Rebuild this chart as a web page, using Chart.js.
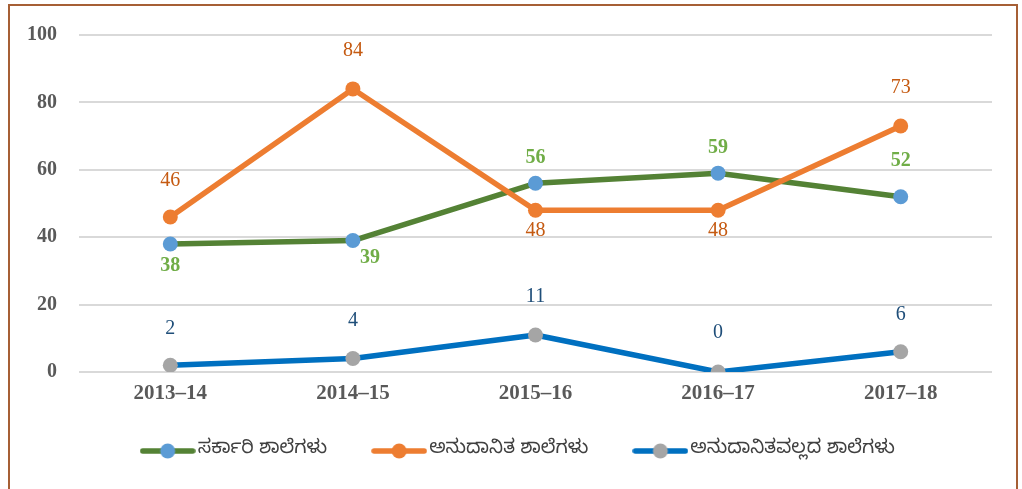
<!DOCTYPE html>
<html>
<head>
<meta charset="utf-8">
<script src="https://cdn.jsdelivr.net/npm/chart.js@4"></script>
<style>
  html, body { margin: 0; padding: 0; background: #fff; overflow: hidden; }
  #wrap { position: relative; width: 1022px; height: 489px; }
  #frame { position: absolute; left: 8px; top: 4px; width: 1010px; height: 500px;
           border: 2px solid #a65f35; box-sizing: border-box; }
  canvas { position: absolute; left: 0; top: 0; }
</style>
</head>
<body>
<div id="wrap">
  <div id="frame"></div>
  <canvas id="lineChart" width="1022" height="489"></canvas>
</div>
<script>
var years = ['2013\u201314', '2014\u201315', '2015\u201316', '2016\u201317', '2017\u201318'];
var govtSchools = [38, 39, 56, 59, 52];
var aidedSchools = [46, 84, 48, 48, 73];
var unaidedSchools = [2, 4, 11, 0, 6];
var seriesNames = ['ಸರ್ಕಾರಿ ಶಾಲೆಗಳು', 'ಅನುದಾನಿತ ಶಾಲೆಗಳು', 'ಅನುದಾನಿತವಲ್ಲದ ಶಾಲೆಗಳು'];

var serif = "'Liberation Serif', 'Times New Roman', serif";
var kannada = "'Noto Sans Kannada', 'Noto Sans', sans-serif";

// legend sample: line with a marker in the middle
function legendIcon(lineColor, dotColor) {
    var c = document.createElement('canvas');
    c.width = 56; c.height = 18;
    var g = c.getContext('2d');
    g.strokeStyle = lineColor;
    g.lineWidth = 5.5;
    g.lineCap = 'round';
    g.beginPath(); g.moveTo(3, 9); g.lineTo(53, 9); g.stroke();
    g.fillStyle = dotColor;
    g.beginPath(); g.arc(28, 9, 7.5, 0, Math.PI * 2); g.fill();
    return c;
}

// simple value labels drawn next to each point
var valueLabels = {
    id: 'valueLabels',
    afterDatasetsDraw: function(chart) {
        var ctx = chart.ctx;
        chart.data.datasets.forEach(function(ds, i) {
            var meta = chart.getDatasetMeta(i);
            ctx.save();
            ctx.font = ds.labelFont;
            ctx.fillStyle = ds.labelColor;
            ctx.textAlign = 'center';
            ctx.textBaseline = 'middle';
            meta.data.forEach(function(pt, j) {
                var off = ds.labelOffsets[j];
                ctx.fillText(ds.data[j], pt.x + off[0], pt.y + off[1]);
            });
            ctx.restore();
        });
    }
};

// nudge the legend box so it sits where the original one does
var legendShift = {
    id: 'legendShift',
    afterLayout: function(chart) {
        var lg = chart.legend;
        lg.left += 25; lg.right += 25;
        lg.top -= 18; lg.bottom -= 18;
    }
};

var ctx = document.getElementById('lineChart').getContext('2d');
var myChart = new Chart(ctx, {
    type: 'line',
    data: {
        labels: years,
        datasets: [{
            label: seriesNames[0],
            data: govtSchools,
            borderColor: '#548235',
            backgroundColor: '#5b9bd5',
            pointBackgroundColor: '#5b9bd5',
            pointBorderColor: '#5b9bd5',
            order: 3,
            labelColor: '#70ad47',
            labelFont: 'bold 20px ' + serif,
            labelOffsets: [[0, 22], [17, 17], [0, -25], [0, -25], [0, -36]],
            icon: legendIcon('#548235', '#5b9bd5')
        }, {
            label: seriesNames[1],
            data: aidedSchools,
            borderColor: '#ed7d31',
            backgroundColor: '#ed7d31',
            pointBackgroundColor: '#ed7d31',
            pointBorderColor: '#ed7d31',
            order: 2,
            labelColor: '#c55a11',
            labelFont: '20px ' + serif,
            labelOffsets: [[0, -36], [0, -38], [0, 21], [0, 21], [0, -38]],
            icon: legendIcon('#ed7d31', '#ed7d31')
        }, {
            label: seriesNames[2],
            data: unaidedSchools,
            borderColor: '#0070c0',
            backgroundColor: '#a5a5a5',
            pointBackgroundColor: '#a5a5a5',
            pointBorderColor: '#a5a5a5',
            order: 1,
            labelColor: '#1f4e79',
            labelFont: '20px ' + serif,
            labelOffsets: [[0, -37], [0, -38], [0, -38], [0, -39], [0, -37]],
            icon: legendIcon('#0070c0', '#a5a5a5')
        }]
    },
    options: {
        responsive: false,
        animation: false,
        layout: { padding: { left: 0, right: 30, top: 35, bottom: 0.5 } },
        elements: {
            line: { borderWidth: 5.5, tension: 0, borderCapStyle: 'round', borderJoinStyle: 'round' },
            point: { radius: 7.5, borderWidth: 0, hoverRadius: 7.5 }
        },
        scales: {
            x: {
                offset: true,
                grid: { display: false, drawTicks: false },
                border: { display: false },
                ticks: { color: '#595959', font: { family: serif, size: 21, weight: 'bold' }, padding: 9 },
                afterFit: function(s) { s.height = 36; }
            },
            y: {
                min: 0,
                max: 100,
                ticks: { stepSize: 20, color: '#595959', font: { family: serif, size: 20, weight: 'bold' }, padding: 22 },
                grid: { color: '#d9d9d9', lineWidth: 2, drawTicks: false },
                border: { display: false },
                afterFit: function(s) { s.width = 79; }
            }
        },
        plugins: {
            tooltip: { enabled: false },
            legend: {
                position: 'bottom',
                labels: {
                    usePointStyle: true,
                    pointStyleWidth: 41,
                    padding: 51.5,
                    color: '#404040',
                    font: { family: kannada, size: 19 },
                    generateLabels: function(chart) {
                        return chart.data.datasets.map(function(ds, i) {
                            return {
                                text: ds.label,
                                pointStyle: ds.icon,
                                fillStyle: ds.backgroundColor,
                                strokeStyle: ds.borderColor,
                                lineWidth: 0,
                                fontColor: '#404040',
                                hidden: false,
                                datasetIndex: i
                            };
                        });
                    }
                }
            }
        }
    },
    plugins: [valueLabels, legendShift]
});
</script>
</body>
</html>
